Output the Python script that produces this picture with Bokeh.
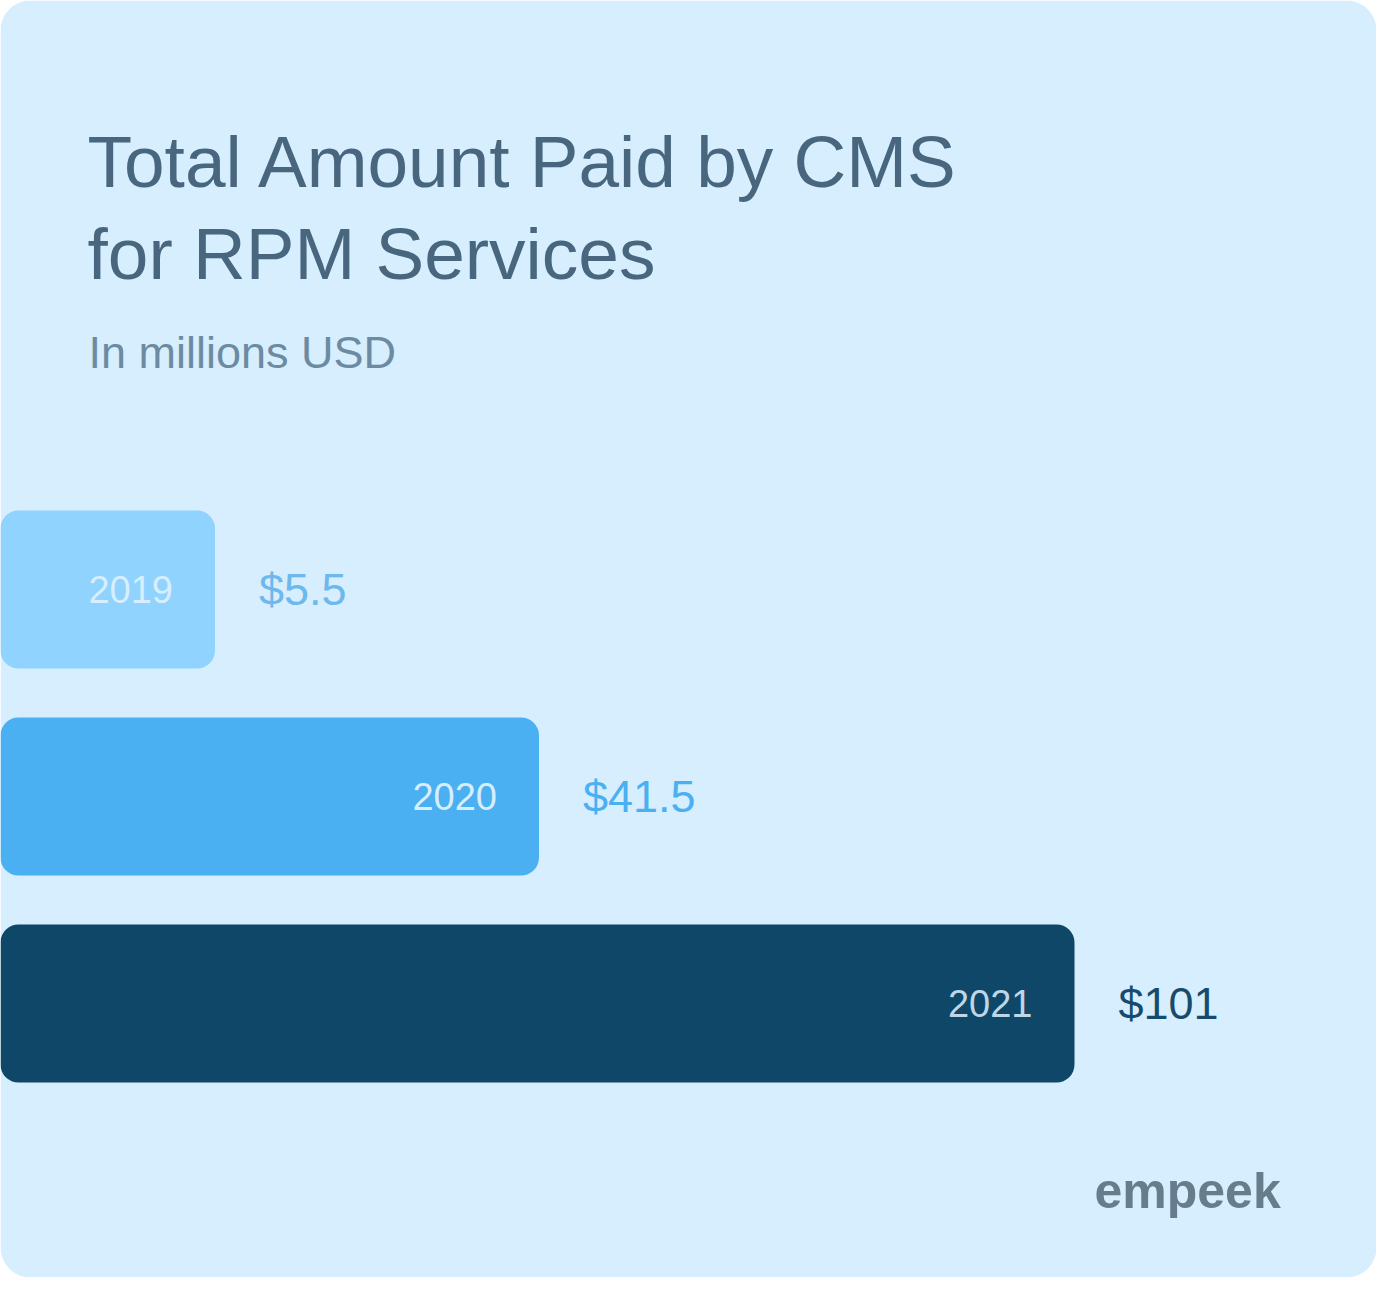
from bokeh.plotting import figure
from bokeh.models import Range1d, ColumnDataSource
from bokeh.core.properties import value
from bokeh.embed import file_html
from bokeh.resources import INLINE

# ---- data ----
years = ["2019", "2020", "2021"]
amounts = [5.5, 41.5, 101]
value_labels = ["$5.5", "$41.5", "$101"]
bar_colors = ["#8FD3FE", "#4AB0F2", "#0F4769"]
year_label_colors = ["#D6EEFD", "#D6EEFD", "#BFD6E6"]
value_label_colors = ["#6DB8EC", "#4AB0F2", "#174B6D"]

title_lines = ["Total Amount Paid by CMS", "for RPM Services"]
subtitle = "In millions USD"
brand = "empeek"

FONT = value("Liberation Sans")
CARD = "#D6EEFD"

W, H = 1376, 1277

# value scale: x_px = 165 + 9.0 * v
xs, xb = 165.0, 9.0
x_start = (0 - xs) / xb
x_end = (W - xs) / xb
# category index scale: y_px (from top) = 589 + 207 * i
ys, yb = 589.0, 207.0
y_top = (0 - ys) / yb
y_bottom = (H - ys) / yb

p = figure(width=W, height=H,
           x_range=Range1d(x_start, x_end),
           y_range=Range1d(y_bottom, y_top),
           x_axis_location=None, y_axis_location=None,
           output_backend="svg", toolbar_location=None,
           min_border=0, outline_line_color=None,
           background_fill_color="white", border_fill_color="white")
p.grid.visible = False
p.extra_x_ranges = {"px": Range1d(0, W)}
p.extra_y_ranges = {"py": Range1d(H, 0)}

# card background
p.quad(left=[0], right=[W], top=[0], bottom=[H],
       x_range_name="px", y_range_name="py",
       fill_color=CARD, line_color=None, border_radius=30)

src = ColumnDataSource(dict(
    idx=list(range(len(years))),
    year=years,
    amount=amounts,
    label=value_labels,
    color=bar_colors,
    ycolor=year_label_colors,
    vcolor=value_label_colors,
))

p.hbar(y="idx", left=x_start - 10, right="amount", height=158 / yb,
       fill_color="color", line_color=None, border_radius=18, source=src)

p.text(x="amount", y="idx", text="year", x_offset=-42,
       text_align="right", text_baseline="middle",
       text_font=FONT, text_font_size="38px", text_color="ycolor", source=src)

p.text(x="amount", y="idx", text="label", x_offset=44,
       text_align="left", text_baseline="middle",
       text_font=FONT, text_font_size="45px", text_color="vcolor", source=src)

# titles
p.text(x=[87, 87], y=[161, 253], text=title_lines,
       x_range_name="px", y_range_name="py",
       text_align="left", text_baseline="middle",
       text_font=FONT, text_font_size="73px", text_color="#48667E")
p.text(x=[88], y=[351.5], text=[subtitle],
       x_range_name="px", y_range_name="py",
       text_align="left", text_baseline="middle",
       text_font=FONT, text_font_size="45px", text_color="#6C8BA2")

# brand
p.text(x=[1094], y=[1190], text=[brand],
       x_range_name="px", y_range_name="py",
       text_align="left", text_baseline="middle",
       text_font=FONT, text_font_size="50px", text_font_style="bold",
       text_color="#687D8C")

open("out.html", "w").write(file_html(p, INLINE))
